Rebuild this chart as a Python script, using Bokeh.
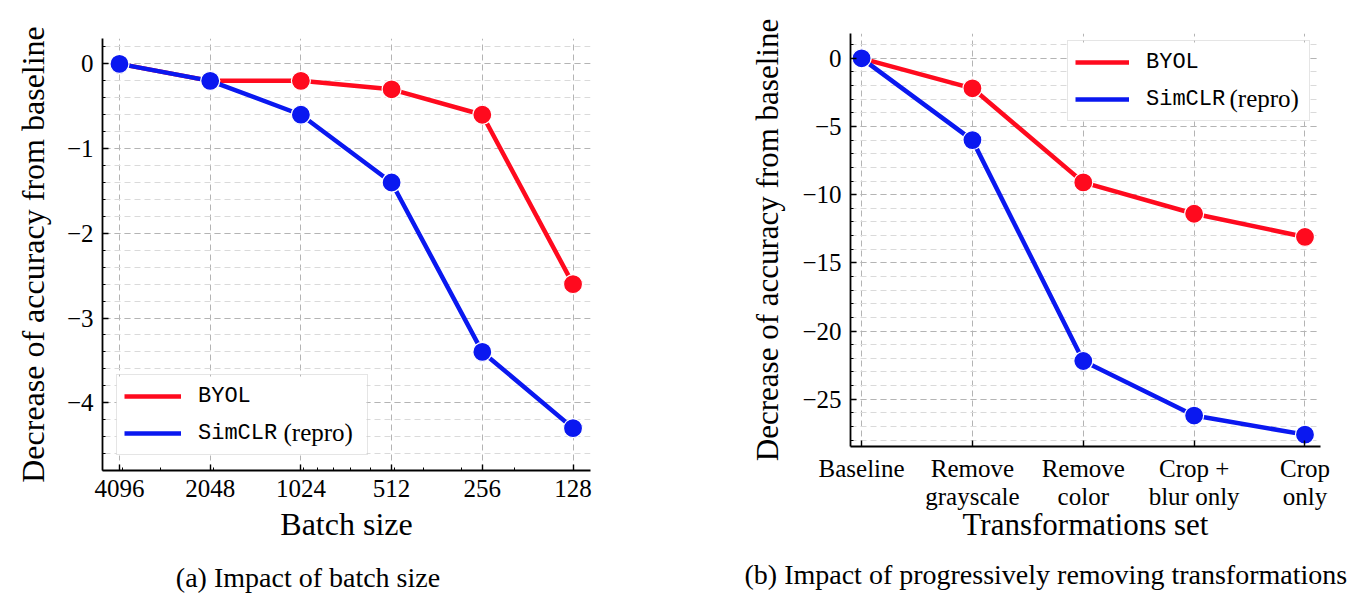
import numpy as np
from bokeh.plotting import figure
from bokeh.models import (Range1d, FixedTicker, Legend, LegendItem, Label, LinearAxis,
                          BoxAnnotation, Title)
from bokeh.embed import file_html
from bokeh.resources import INLINE

# ---------------- data ----------------
batch_sizes = [4096, 2048, 1024, 512, 256, 128]
byol_batch = [0.0, -0.2, -0.2, -0.3, -0.6, -2.6]
simclr_batch = [0.0, -0.2, -0.6, -1.4, -3.4, -4.3]

transform_sets = ["Baseline", "Remove\ngrayscale", "Remove\ncolor", "Crop +\nblur only", "Crop\nonly"]
byol_transform = [0.0, -2.2, -9.1, -11.4, -13.1]
simclr_transform = [0.0, -6.0, -22.2, -26.2, -27.6]

batch_yticks = [0, -1, -2, -3, -4]
transform_yticks = [0, -5, -10, -15, -20, -25]
batch_minor_x = [4000, 3000, 2000, 1000, 900, 800, 700, 600, 500, 400, 300, 200]

# ---------------- style ----------------
SERIF = "Liberation Serif"
MONO = "Liberation Mono"
RED = "#ff0a1e"
BLUE = "#0a18f0"
MAJOR_GRID = "#b4b4b4"
MINOR_GRID = "#dadada"
NBSP = "\u00a0"


def minus(v):
    return f"{v:g}".replace("-", "\u2212")


def style(p):
    p.outline_line_color = None
    p.min_border = 0
    for ax in (p.xaxis[0], p.yaxis[0]):
        ax.axis_line_width = 1.8
        ax.axis_line_color = "black"
        ax.major_tick_in = 6
        ax.major_tick_out = 0
        ax.minor_tick_in = 3
        ax.minor_tick_out = 0
        ax.major_tick_line_width = 1.4
        ax.minor_tick_line_width = 1.0
        ax.major_tick_line_color = "black"
        ax.minor_tick_line_color = "black"
        ax.major_label_text_font = SERIF
        ax.major_label_text_font_size = "25px"
        ax.major_label_text_color = "black"
        ax.axis_label_text_font = SERIF
        ax.axis_label_text_font_style = "normal"
        ax.axis_label_text_color = "black"
    for g in (p.xgrid[0], p.ygrid[0]):
        g.grid_line_color = MAJOR_GRID
        g.grid_line_dash = "6 4"
        g.grid_line_width = 1
    p.ygrid[0].minor_grid_line_color = MINOR_GRID
    p.ygrid[0].minor_grid_line_dash = "6 4"
    p.ygrid[0].minor_grid_line_width = 1


def add_series(p, x, y, color):
    r = p.line(x, y, line_color=color, line_width=4.5)
    p.scatter(x, y, size=19, fill_color=color, line_color="white", line_width=1.2)
    return r


PAD, GLYPH_H, SPACING, STANDOFF = 7, 28, 9, 17


def add_legend(p, r_byol, r_sim, loc, glyph_w, label_w, repro_x):
    lx, ly = loc
    w = 2 * PAD + glyph_w + STANDOFF + label_w
    h = 2 * PAD + 2 * GLYPH_H + SPACING
    # opaque white backing under a transparent legend, so "(repro)" can sit inside it
    p.add_layout(BoxAnnotation(left=lx, right=lx + w, bottom=ly, top=ly + h,
                               left_units="screen", right_units="screen",
                               top_units="screen", bottom_units="screen",
                               fill_color="white", fill_alpha=1.0, line_color=None,
                               level="annotation"))
    p.add_layout(Label(x=repro_x, y=ly + PAD + GLYPH_H / 2 + 2.5, x_units="screen", y_units="screen",
                       text="(repro)", text_font=SERIF, text_font_size="25px",
                       text_baseline="middle", text_color="black", level="annotation"))
    legend = Legend(
        items=[LegendItem(label="BYOL", renderers=[r_byol]),
               LegendItem(label="SimCLR", renderers=[r_sim])],
        location=loc, margin=0, padding=PAD, spacing=SPACING,
        glyph_width=glyph_w, glyph_height=GLYPH_H, label_standoff=STANDOFF, label_width=label_w,
        label_text_font=MONO, label_text_font_size="22px", label_text_color="black",
        border_line_color="#cccccc", border_line_width=1,
        background_fill_alpha=0.0,
    )
    p.add_layout(legend)


def add_caption_axis(p, text, shift_spaces, standoff):
    # caption as an empty axis' label; trailing no-break spaces move its centre left
    cap = LinearAxis(ticker=FixedTicker(ticks=[]), axis_label=text + NBSP * shift_spaces,
                     axis_line_color=None, major_tick_line_color=None,
                     minor_tick_line_color=None, major_label_standoff=0,
                     major_tick_out=0, major_tick_in=0,
                     axis_label_standoff=standoff, axis_label_text_font=SERIF,
                     axis_label_text_font_size="28px", axis_label_text_font_style="normal",
                     axis_label_text_color="black")
    p.add_layout(cap, "below")


# ---------------- (a) batch size ----------------
p1 = figure(width=660, height=600, x_axis_type="log",
            x_range=Range1d(4663, 112), y_range=Range1d(-4.80, 0.30),
            output_backend="svg", toolbar_location=None)
style(p1)
p1.min_border_left = 102
p1.min_border_right = 70
p1.min_border_top = 38
p1.min_border_bottom = 130

p1.xaxis[0].ticker = FixedTicker(ticks=batch_sizes, minor_ticks=batch_minor_x)
p1.xaxis[0].major_label_overrides = {b: str(b) for b in batch_sizes}
p1.yaxis[0].ticker = FixedTicker(ticks=batch_yticks,
                                 minor_ticks=[round(v, 1) for v in np.arange(0.2, -4.81, -0.2)])
p1.yaxis[0].major_label_overrides = {t: minus(t) for t in batch_yticks}
p1.xaxis[0].major_label_standoff = 9
p1.yaxis[0].major_label_standoff = 9
p1.xaxis[0].axis_label = "Batch size"
p1.yaxis[0].axis_label = "Decrease of accuracy from baseline"
p1.xaxis[0].axis_label_text_font_size = "32px"
p1.yaxis[0].axis_label_text_font_size = "32px"
p1.xaxis[0].axis_label_standoff = 6
p1.yaxis[0].axis_label_standoff = 13

rb1 = add_series(p1, batch_sizes, byol_batch, RED)
rs1 = add_series(p1, batch_sizes, simclr_batch, BLUE)
add_legend(p1, rb1, rs1, (14, 15), 57, 162, 181)
add_caption_axis(p1, "(a) Impact of batch size", 11, 17)

# ---------------- (b) transformations ----------------
x_idx = list(range(len(transform_sets)))
p2 = figure(width=696, height=605,
            x_range=Range1d(-0.10, 4.14), y_range=Range1d(-28.47, 1.82),
            output_backend="svg", toolbar_location=None)
style(p2)
p2.min_border_left = 190
p2.min_border_right = 36
p2.min_border_top = 33
p2.min_border_bottom = 157

p2.xaxis[0].ticker = FixedTicker(ticks=x_idx)
p2.xaxis[0].major_label_overrides = {i: lab for i, lab in zip(x_idx, transform_sets)}
p2.xaxis[0].major_label_text_line_height = 1.05
p2.yaxis[0].ticker = FixedTicker(ticks=transform_yticks,
                                 minor_ticks=list(range(1, -29, -1)))
p2.yaxis[0].major_label_overrides = {t: minus(t) for t in transform_yticks}
p2.xaxis[0].major_label_standoff = 8
p2.yaxis[0].major_label_standoff = 9
p2.xaxis[0].axis_label = "Transformations set"
p2.yaxis[0].axis_label = "Decrease of accuracy from baseline"
p2.xaxis[0].axis_label_text_font_size = "31px"
p2.yaxis[0].axis_label_text_font_size = "31px"
p2.xaxis[0].axis_label_standoff = -6
p2.yaxis[0].axis_label_standoff = 14

rb2 = add_series(p2, x_idx, byol_transform, RED)
rs2 = add_series(p2, x_idx, simclr_transform, BLUE)
add_legend(p2, rb2, rs2, (217, 325), 54, 156, 379)
p2.add_layout(Title(text="(b) Impact of progressively removing transformations",
                    align="left", offset=-106, vertical_align="top", standoff=28,
                    text_font=SERIF, text_font_size="28px", text_font_style="normal",
                    text_color="black"), "below")

# two independent roots side by side (no frame alignment between them)
TEMPLATE = """
{% block contents %}
{% from macros import embed %}
<div style="display:flex; flex-direction:row; align-items:flex-start;">
{% for doc in docs %}{% for root in doc.roots %}
{{ embed(root) }}
{% endfor %}{% endfor %}
</div>
{% endblock %}
"""

open("out.html", "w").write(file_html([p1, p2], INLINE, template=TEMPLATE))
